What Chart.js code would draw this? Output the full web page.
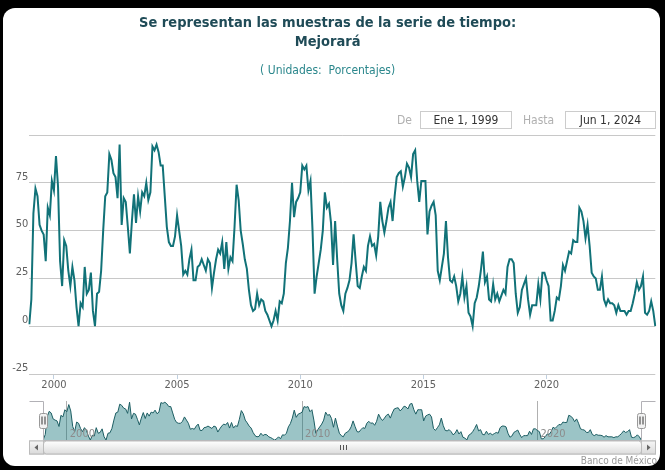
<!DOCTYPE html>
<html>
<head>
<meta charset="utf-8">
<script src="https://cdn.jsdelivr.net/npm/chart.js@4/dist/chart.umd.min.js"></script>
<style>
  html, body { margin: 0; padding: 0; background: #000; width: 665px; height: 470px; overflow: hidden; }
  #panel { position: absolute; left: 3px; top: 8px; width: 657px; height: 458px; background: #fff; border-radius: 12px; }
  canvas { position: absolute; left: 0; }
  #main { top: 0; }
  #nav { top: 396px; }
  .rl, .rb, #credit { position: absolute; font-family: 'DejaVu Sans Condensed', 'DejaVu Sans', sans-serif; z-index: 5; }
  .rl { font-size: 12px; color: #b0b0b0; top: 112px; line-height: 16px; }
  .rb { top: 111px; height: 18px; box-sizing: border-box; border: 1px solid #cccccc; font-size: 12px; color: #333; text-align: center; line-height: 16px; background: #fff; }
  #credit { right: 8px; top: 455px; font-size: 10px; color: #999; }
</style>
</head>
<body>
<div id="panel"></div>
<canvas id="main" width="665" height="400"></canvas>
<canvas id="nav" width="665" height="62"></canvas>
<div class="rl" style="left:397px">De</div>
<div class="rb" style="left:420px;width:92px">Ene 1, 1999</div>
<div class="rl" style="left:523px">Hasta</div>
<div class="rb" style="left:565px;width:91px">Jun 1, 2024</div>
<div id="credit">Banco de México</div>
<script>
// ---- Data ----
const monthNames = ['Ene','Feb','Mar','Abr','May','Jun','Jul','Ago','Sep','Oct','Nov','Dic'];
const firstYear = 1999;
const monthCount = 306; // Ene 1999 .. Jun 2024
const months = [];
for (let i = 0; i < monthCount; i++) months.push(monthNames[i % 12] + ' ' + (firstYear + Math.floor(i / 12)));

const mejorara = [
  1, 14, 59, 72, 68, 53, 50, 48, 34, 62,
  58, 76, 71, 89, 73, 34, 21, 45, 42, 29,
  21, 31, 24, 10, 0, 12, 10, 31, 17, 19,
  28, 8, 0, 17, 18, 29, 50, 68, 70, 90,
  87, 80, 78, 67, 95, 53, 67, 65, 52, 38,
  55, 69, 54, 68, 60, 70, 68, 75, 66, 70,
  94, 92, 95, 91, 84, 84, 68, 52, 44, 42,
  42, 47, 58, 50, 42, 27, 29, 27, 35, 40,
  24, 24, 31, 32, 35, 32, 29, 35, 33, 20,
  28, 35, 40, 38, 44, 30, 44, 30, 36, 34,
  52, 74, 66, 50, 43, 35, 30, 19, 11, 8,
  9, 17, 11, 14, 13, 8, 6, 3, 0, 3,
  8, 3, 13, 12, 17, 33, 41, 55, 75, 57,
  65, 67, 70, 84, 82, 84, 71, 76, 50, 17,
  26, 33, 40, 50, 70, 62, 64, 54, 32, 55,
  35, 17, 11, 8, 17, 20, 24, 33, 48, 34,
  21, 20, 26, 31, 29, 42, 47, 42, 43, 37,
  47, 65, 55, 49, 55, 62, 65, 55, 68, 78,
  80, 81, 73, 78, 85, 83, 78, 90, 92, 76,
  65, 76, 76, 76, 48, 60, 63, 65, 58, 29,
  24, 31, 38, 55, 36, 24, 23, 26, 21, 13,
  17, 26, 15, 21, 7, 5, 0, 12, 15, 21,
  29, 39, 23, 26, 14, 13, 22, 14, 17, 13,
  16, 19, 17, 31, 35, 35, 33, 17, 7, 10,
  19, 22, 25, 14, 6, 11, 11, 11, 22, 14,
  28, 28, 24, 21, 3, 3, 8, 15, 14, 21,
  32, 29, 34, 39, 38, 45, 44, 44, 62, 60,
  55, 46, 53, 42, 28, 26, 25, 19, 19, 26,
  14, 11, 14, 12, 12, 11, 7, 11, 8, 8,
  8, 6, 8, 8, 12, 17, 23, 19, 21, 26,
  7, 6, 8, 13, 8, 0
];

const yTicks = [-25, 0, 25, 50, 75, 100];
const yearTicks = ['2000', '2005', '2010', '2015', '2020'];
const navYearTicks = ['2000', '2010', '2020'];

const titleLines = ['Se representan las muestras de la serie de tiempo:', 'Mejorará'];
const subtitleText = '( Unidades:  Porcentajes)';

// ---- Styles ----
const FONT = "'DejaVu Sans Condensed', 'DejaVu Sans', sans-serif";
const LINE = '#117278';

const idxOfYear = y => months.indexOf('Ene ' + y);

new Chart(document.getElementById('main'), {
  type: 'line',
  data: {
    labels: months,
    datasets: [{ data: mejorara, borderColor: LINE, borderWidth: 2, pointRadius: 0, tension: 0, fill: false }]
  },
  options: {
    responsive: false, animation: false, events: [],
    layout: { padding: { left: 0, right: 9.7, top: 0, bottom: 0 } },
    plugins: {
      legend: { display: false },
      tooltip: { enabled: false },
      title: {
        display: true, text: titleLines, color: '#1f4b57',
        font: { family: FONT, size: 14.5, weight: 'bold', lineHeight: 19 / 14.5 },
        padding: { top: 13.5, bottom: 0 }
      },
      subtitle: {
        display: true, text: subtitleText, color: '#2b878c',
        font: { family: FONT, size: 12, weight: 'normal', lineHeight: 1.2 },
        padding: { top: 12.3, bottom: 56.8 }
      }
    },
    scales: {
      x: {
        type: 'category', offset: false,
        grid: { drawOnChartArea: false, drawTicks: true, tickLength: 5, tickColor: '#c0d0e0' },
        border: { display: false },
        ticks: {
          autoSkip: false, maxRotation: 0, padding: 0, color: '#606060',
          font: { family: FONT, size: 11 },
          callback(v) { return this.getLabelForValue(v).slice(4); }
        },
        afterBuildTicks(s) { s.ticks = yearTicks.map(y => ({ value: idxOfYear(y) })); },
        afterFit(s) { s.height = 26; }
      },
      y: {
        min: -25, max: 100,
        afterBuildTicks(s) { s.ticks = yTicks.map(v => ({ value: v })); },
        grid: { color: '#c8c8c8', drawTicks: false },
        border: { display: false },
        ticks: {
          padding: 1, labelOffset: -6, color: '#606060',
          font: { family: FONT, size: 11 },
          callback: v => (v === 100 ? '' : String(v))
        },
        afterFit(s) { s.width = 29.3; }
      }
    }
  }
});

const navDecor = {
  id: 'navDecor',
  afterDraw(chart) {
    const ctx = chart.ctx, ca = chart.chartArea, xs = chart.scales.x;
    ctx.save();
    // axis labels inside navigator
    ctx.font = '11px ' + FONT;
    ctx.fillStyle = '#8c8c8c';
    ctx.textAlign = 'left';
    ctx.textBaseline = 'alphabetic';
    navYearTicks.forEach(y => {
      const px = xs.getPixelForValue(idxOfYear(y));
      ctx.fillText(y, px + 3, ca.bottom - 3);
    });
    const sb = 14;
    const L = Math.round(ca.left) + 0.5, R = Math.round(ca.right) + 0.5;
    const T = Math.round(ca.top) + 0.5, B = Math.round(ca.bottom) + 0.5;
    // outline
    ctx.strokeStyle = '#b2b1b6'; ctx.lineWidth = 1;
    ctx.beginPath();
    ctx.moveTo(L - sb, T); ctx.lineTo(L, T); ctx.lineTo(L, B); ctx.lineTo(R, B); ctx.lineTo(R, T); ctx.lineTo(R + sb, T);
    ctx.stroke();
    // scrollbar
    const sy = B + 0.5, sh = 13;
    ctx.fillStyle = '#eeeeee'; ctx.strokeStyle = '#bbbbbb';
    ctx.fillRect(L - sb, sy, (R + sb) - (L - sb), sh);
    ctx.strokeRect(L - sb, sy, (R + sb) - (L - sb), sh);
    const btnGrad = ctx.createLinearGradient(0, sy, 0, sy + sh);
    btnGrad.addColorStop(0, '#f6f6f6'); btnGrad.addColorStop(1, '#dadada');
    [[L - sb, -1], [R, 1]].forEach(([bx, dir]) => {
      ctx.fillStyle = btnGrad; ctx.fillRect(bx, sy, sb, sh); ctx.strokeRect(bx, sy, sb, sh);
      const cx = bx + sb / 2, cy = sy + sh / 2;
      ctx.fillStyle = '#666';
      ctx.beginPath();
      ctx.moveTo(cx + dir * 2, cy); ctx.lineTo(cx - dir * 1.5, cy - 3); ctx.lineTo(cx - dir * 1.5, cy + 3); ctx.closePath();
      ctx.fill();
    });
    const thumbGrad = ctx.createLinearGradient(0, sy, 0, sy + sh);
    thumbGrad.addColorStop(0, '#ffffff'); thumbGrad.addColorStop(1, '#dcdcdc');
    ctx.fillStyle = thumbGrad;
    ctx.beginPath(); ctx.roundRect(L, sy, R - L, sh, 3); ctx.fill(); ctx.stroke();
    const gx = Math.round((L + R) / 2) + 0.5;
    ctx.strokeStyle = '#555';
    ctx.beginPath();
    [-3, 0, 3].forEach(d => { ctx.moveTo(gx + d, sy + 4); ctx.lineTo(gx + d, sy + sh - 4); });
    ctx.stroke();
    // handles
    const hcy = (ca.top + ca.bottom) / 2;
    [L, R].forEach(x => {
      ctx.fillStyle = '#f2f2f2'; ctx.strokeStyle = '#999';
      ctx.beginPath(); ctx.roundRect(x - 4, Math.round(hcy - 7.5) + 0.5, 8, 15, 2); ctx.fill(); ctx.stroke();
      ctx.strokeStyle = '#333';
      ctx.beginPath();
      ctx.moveTo(x - 1.5, hcy - 4); ctx.lineTo(x - 1.5, hcy + 4);
      ctx.moveTo(x + 1.5, hcy - 4); ctx.lineTo(x + 1.5, hcy + 4);
      ctx.stroke();
    });
    ctx.restore();
  }
};

new Chart(document.getElementById('nav'), {
  type: 'line',
  data: {
    labels: months,
    datasets: [{ data: mejorara, borderColor: '#1d5e63', borderWidth: 1, pointRadius: 0, tension: 0,
                 fill: 'start', backgroundColor: 'rgba(17,114,120,0.42)' }]
  },
  options: {
    responsive: false, animation: false, events: [],
    layout: { padding: { left: 43.3, right: 23.7, top: 5, bottom: 18 } },
    plugins: { legend: { display: false }, tooltip: { enabled: false } },
    scales: {
      x: {
        offset: false,
        grid: { color: '#b0b0b0', drawTicks: false },
        border: { display: false },
        ticks: { display: false },
        afterBuildTicks(s) { s.ticks = navYearTicks.map(y => ({ value: idxOfYear(y) })); },
        afterFit(s) { s.height = 0; }
      },
      y: { display: false, min: 0, max: 98 }
    }
  },
  plugins: [navDecor]
});
</script>
</body>
</html>
